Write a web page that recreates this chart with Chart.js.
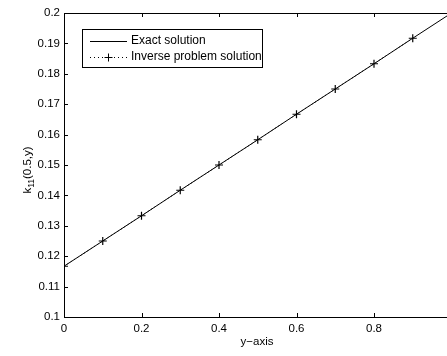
<!DOCTYPE html>
<html>
<head>
<meta charset="utf-8">
<script src="https://cdn.jsdelivr.net/npm/chart.js@4.4.0/dist/chart.umd.min.js"></script>
<style>
  html, body { margin: 0; padding: 0; background: #fff; overflow: hidden; }
  #wrap { width: 460px; height: 356px; }
</style>
</head>
<body>
<div id="wrap"><canvas id="chart" width="460" height="356"></canvas></div>
<script>
// values
const xValues = [0, 0.1, 0.2, 0.3, 0.4, 0.5, 0.6, 0.7, 0.8, 0.9, 1.0];
const exactValues = [0.1167, 0.125, 0.1333, 0.1417, 0.15, 0.1583, 0.1667, 0.175, 0.1833, 0.1917, 0.2];
const inverseX = [0, 0.1, 0.2, 0.3, 0.4, 0.5, 0.6, 0.7, 0.8, 0.9];
const inverseValues = [0.1167, 0.125, 0.1333, 0.1417, 0.15, 0.1583, 0.1667, 0.175, 0.1833, 0.1917];
const xTicks = [0, 0.2, 0.4, 0.6, 0.8, 1];
const xTickLabels = ['0', '0.2', '0.4', '0.6', '0.8', '1'];
const yTicks = [0.1, 0.11, 0.12, 0.13, 0.14, 0.15, 0.16, 0.17, 0.18, 0.19, 0.2];
const yTickLabels = ['0.1', '0.11', '0.12', '0.13', '0.14', '0.15', '0.16', '0.17', '0.18', '0.19', '0.2'];

const FONT = '"Liberation Sans", Arial, Helvetica, sans-serif';

// MATLAB-like box, inward ticks, axis titles and legend
const matlabAxes = {
  id: 'matlabAxes',
  afterDatasetsDraw(chart) {
    const { ctx, chartArea: a, scales } = chart;
    const tick = 4;
    ctx.save();
    ctx.strokeStyle = '#000';
    ctx.lineWidth = 1;
    ctx.beginPath();
    ctx.rect(Math.round(a.left) + 0.5, Math.round(a.top) + 0.5,
      Math.round(a.right - a.left), Math.round(a.bottom - a.top));
    ctx.stroke();

    ctx.beginPath();
    xTicks.forEach((v) => {
      const px = Math.round(scales.x.getPixelForValue(v)) + 0.5;
      ctx.moveTo(px, a.bottom); ctx.lineTo(px, a.bottom - tick);
      ctx.moveTo(px, a.top); ctx.lineTo(px, a.top + tick);
    });
    yTicks.forEach((v) => {
      const py = Math.round(scales.y.getPixelForValue(v)) + 0.5;
      ctx.moveTo(a.left, py); ctx.lineTo(a.left + tick, py);
      ctx.moveTo(a.right, py); ctx.lineTo(a.right - tick, py);
    });
    ctx.stroke();

    // x title
    ctx.fillStyle = '#000';
    ctx.font = '11.5px ' + FONT;
    ctx.textAlign = 'center';
    ctx.textBaseline = 'middle';
    ctx.fillText('y\u2212axis', 257, 342);

    // y title with subscript
    ctx.save();
    ctx.translate(31, (a.top + a.bottom) / 2 + 5);
    ctx.rotate(-Math.PI / 2);
    ctx.textAlign = 'left';
    ctx.textBaseline = 'alphabetic';
    const big = '11.5px ' + FONT, small = '8.5px ' + FONT;
    ctx.font = big; const w1 = ctx.measureText('k').width;
    ctx.font = small; const w2 = ctx.measureText('11').width;
    ctx.font = big; const w3 = ctx.measureText('(0.5,y)').width;
    let x0 = -(w1 + w2 + w3) / 2;
    ctx.font = big; ctx.fillText('k', x0, 0); x0 += w1;
    ctx.font = small; ctx.fillText('11', x0, 3); x0 += w2;
    ctx.font = big; ctx.fillText('(0.5,y)', x0, 0);
    ctx.restore();

    // legend
    const lx = 82.5, ly = 29.5, lw = 180, lh = 38;
    ctx.fillStyle = '#fff';
    ctx.fillRect(lx, ly, lw, lh);
    ctx.strokeRect(lx, ly, lw, lh);
    const rows = [41, 57];
    ctx.font = '12px ' + FONT;
    ctx.textAlign = 'left';
    ctx.textBaseline = 'middle';
    chart.data.datasets.forEach((ds, i) => {
      const y = rows[i] + 0.5;
      ctx.beginPath();
      ctx.setLineDash(ds.borderDash || []);
      ctx.moveTo(90, y); ctx.lineTo(127, y);
      ctx.stroke();
      ctx.setLineDash([]);
      if (ds.pointStyle === 'cross') {
        ctx.beginPath();
        ctx.moveTo(108.5 - 4, y); ctx.lineTo(108.5 + 4, y);
        ctx.moveTo(108.5, y - 4); ctx.lineTo(108.5, y + 4);
        ctx.stroke();
      }
      ctx.fillStyle = '#000';
      ctx.fillText(ds.label, 131, rows[i]);
    });
    ctx.restore();
  },
};

new Chart(document.getElementById('chart'), {
  type: 'scatter',
  data: {
    datasets: [
      {
        label: 'Exact solution',
        data: xValues.map((x, i) => ({ x, y: exactValues[i] })),
        showLine: true,
        borderColor: '#000',
        borderWidth: 1,
        pointRadius: 0,
        fill: false,
      },
      {
        label: 'Inverse problem solution',
        data: inverseX.map((x, i) => ({ x, y: inverseValues[i] })),
        showLine: true,
        borderColor: '#000',
        borderWidth: 1,
        borderDash: [1, 3],
        pointStyle: 'cross',
        pointRadius: 4,
        pointBorderWidth: 1.2,
        pointBorderColor: '#000',
        fill: false,
      },
    ],
  },
  options: {
    responsive: false,
    animation: false,
    layout: { padding: { top: 13, right: 8.5, left: 0, bottom: 0 } },
    plugins: {
      legend: { display: false },
      tooltip: { enabled: false },
    },
    scales: {
      x: {
        type: 'linear',
        min: 0,
        max: 1,
        afterBuildTicks: (s) => { s.ticks = xTicks.map((v) => ({ value: v })); },
        afterFit: (s) => { s.height = 39; },
        grid: { display: false, drawTicks: false },
        border: { display: false },
        ticks: {
          color: '#000',
          font: { family: FONT, size: 11.5 },
          padding: 5,
          maxRotation: 0,
          autoSkip: false,
          callback: (v, i) => xTickLabels[i],
        },
      },
      y: {
        type: 'linear',
        min: 0.1,
        max: 0.2,
        afterBuildTicks: (s) => { s.ticks = yTicks.map((v) => ({ value: v })); },
        afterFit: (s) => { s.width = 64; },
        grid: { display: false, drawTicks: false },
        border: { display: false },
        ticks: {
          color: '#000',
          font: { family: FONT, size: 11.5 },
          padding: 4,
          autoSkip: false,
          callback: (v, i) => yTickLabels[i],
        },
      },
    },
  },
  plugins: [matlabAxes],
});
</script>
</body>
</html>
